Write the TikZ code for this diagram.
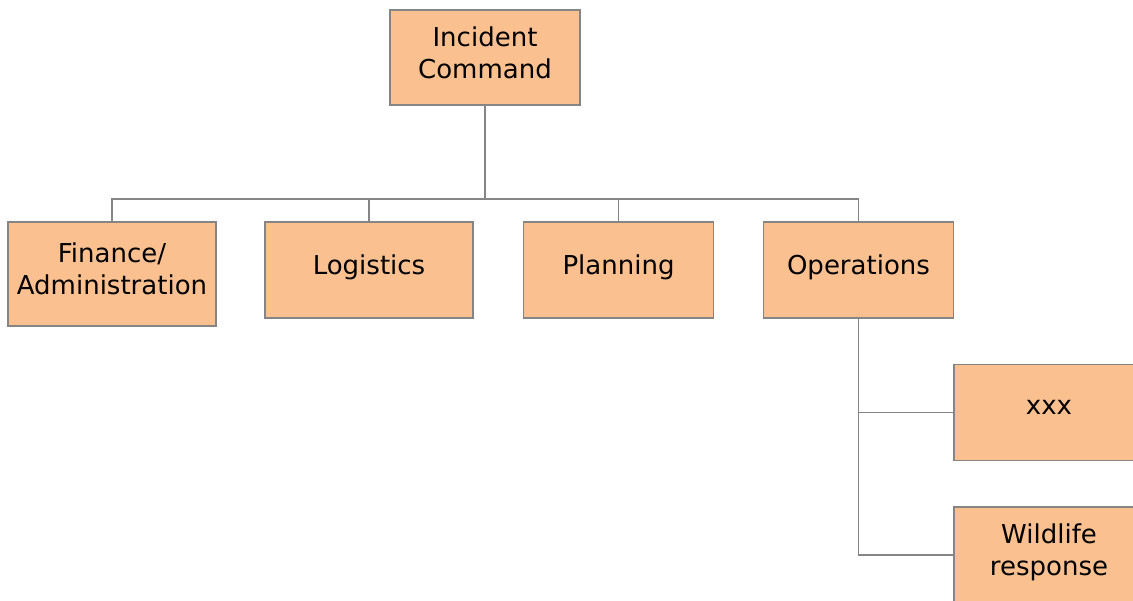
\documentclass[tikz,border=0pt]{standalone}
\usepackage{fontspec}
\setmainfont{DejaVu Sans}
\usepackage{tikz}
\usetikzlibrary{positioning, calc}
\definecolor{boxfill}{HTML}{FAC090}
\definecolor{boxline}{HTML}{858585}
\tikzset{
    unit/.style={draw=boxline, fill=boxfill, line width=1.1pt, align=center,
        inner sep=0pt, minimum width=3.8cm, minimum height=1.92cm,
        text depth=0.21cm, font=\fontsize{14.8}{18.2}\selectfont},
    link/.style={draw=boxline, line width=1.1pt}
}

\begin{document}
\begin{tikzpicture}[x=0.02cm, y=-0.02cm]
        \useasboundingbox (0,0) rectangle (1133,601);
        \clip (0,0) rectangle (1133,601);

        % ---------------- top ----------------
        \node[unit, minimum height=1.9cm] (cmd) at (485,57.5) {Incident\\Command};

        % ---------------- sections ----------------
        \node[unit, minimum width=4.16cm, minimum height=2.08cm] (fin) at (112,274) {Finance/\\Administration};
        \node[unit, minimum width=4.16cm] (log) at (369,270) {Logistics};
        \node[unit] (plan) at (618.5,270) {Planning};
        \node[unit] (ops) at (858.5,270) {Operations};

        % ---------------- under operations ----------------
        \node[unit] (xxx) at (1049,412.5) {xxx};
        \node[unit] (wild) at (1049,555) {Wildlife\\response};

        % Bus from the command box
        \coordinate (bus) at (485,199);
        \foreach \n in {fin,log,plan,ops} {
            \draw[link] (cmd.south) |- (bus -| \n.north) -- (\n.north);
        }

        % Operations branches
        \foreach \n in {xxx,wild} {
            \draw[link] (ops.south) |- (\n.west);
        }
    \end{tikzpicture}
\end{document}
